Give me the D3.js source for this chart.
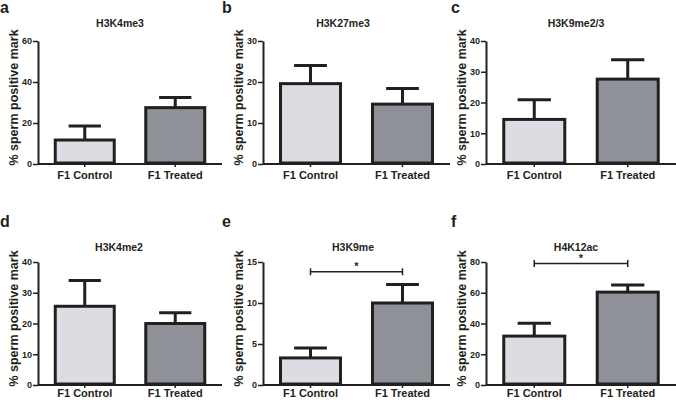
<!DOCTYPE html>
<html>
<head>
<meta charset="utf-8">
<script src="https://cdn.jsdelivr.net/npm/d3@7"></script>
<style>
  html, body { margin: 0; padding: 0; background: #fff; }
  svg { display: block; }
  text { font-family: "Liberation Sans", Arial, Helvetica, sans-serif; fill: #231f20; }
</style>
</head>
<body>
<svg id="chart" width="676" height="400"></svg>
<script>
// ---- Data ----
const categories = ["F1 Control", "F1 Treated"];
const panelLetters = ["a", "b", "c", "d", "e", "f"];
const titles = ["H3K4me3", "H3K27me3", "H3K9me2/3", "H3K4me2", "H3K9me", "H4K12ac"];
const yMax = [60, 30, 40, 40, 15, 80];
const yTicks = [
  [0, 20, 40, 60],
  [0, 10, 20, 30],
  [0, 10, 20, 30, 40],
  [0, 10, 20, 30, 40],
  [0, 5, 10, 15],
  [0, 20, 40, 60, 80]
];
const controlMean = [11.7, 19.6, 14.5, 25.6, 3.3, 31.8];
const controlErr  = [6.8, 4.4, 6.4, 8.4, 1.2, 8.4];
const treatedMean = [27.5, 14.6, 27.6, 20.0, 10.0, 60.4];
const treatedErr  = [5.0, 3.8, 6.3, 3.5, 2.25, 4.6];
const sigLabel = [null, null, null, null, "*", "*"];
const sigLevel = [null, null, null, null, 13.8, 79];

// ---- Layout ----
const axisX = [38, 263, 486, 38, 263, 486];
const plotW = [184, 187, 190, 184, 187, 190];
const rowTop = [41, 41, 41, 262, 262, 262];
const rowBottom = [164, 164, 164, 385, 385, 385];
const xLabelPad = [4, 4, 4, 1.5, 1.5, 1.5];
const titleX = [120, 343, 576, 119, 353, 576];
const titleY = [27, 27, 27, 251, 251, 251];
const letterX = [0, 222, 451, 0, 222, 451];
const letterY = [13, 13, 13, 227, 227, 227];
const fills = ["#dcdde2", "#8e9197"];
const ink = "#231f20";

const svg = d3.select("#chart");

panelLetters.forEach((letter, i) => {
  const g = svg.append("g");
  const x = d3.scaleBand()
    .domain(categories)
    .range([axisX[i], axisX[i] + plotW[i]])
    .paddingInner(0.315)
    .paddingOuter(0.174);
  const y = d3.scaleLinear().domain([0, yMax[i]]).range([rowBottom[i], rowTop[i]]);

  const means = [controlMean[i], treatedMean[i]];
  const errs = [controlErr[i], treatedErr[i]];
  const bw = x.bandwidth();

  // error bars
  categories.forEach((c, k) => {
    const cx = x(c) + bw / 2;
    g.append("line")
      .attr("x1", cx).attr("x2", cx)
      .attr("y1", y(means[k])).attr("y2", y(means[k] + errs[k]))
      .attr("stroke", ink).attr("stroke-width", 3);
    g.append("line")
      .attr("x1", cx - bw * 0.26).attr("x2", cx + bw * 0.26)
      .attr("y1", y(means[k] + errs[k])).attr("y2", y(means[k] + errs[k]))
      .attr("stroke", ink).attr("stroke-width", 3);
  });

  // bars
  g.selectAll("rect.bar")
    .data(categories.map((c, k) => ({ c, v: means[k], k })))
    .enter().append("rect")
    .attr("class", "bar")
    .attr("x", d => x(d.c) + 1.5)
    .attr("width", bw - 3)
    .attr("y", d => y(d.v))
    .attr("height", d => y(0) - y(d.v) - 1)
    .attr("fill", d => fills[d.k])
    .attr("stroke", ink)
    .attr("stroke-width", 3);

  // y axis
  const yAxis = d3.axisLeft(y).tickValues(yTicks[i]).tickSize(5).tickPadding(1).tickSizeOuter(0);
  const ya = g.append("g").attr("transform", `translate(${axisX[i]},0)`).call(yAxis);
  ya.select(".domain").attr("stroke", ink).attr("stroke-width", 2);
  ya.selectAll(".tick line").attr("stroke", ink).attr("stroke-width", 1.5);
  ya.selectAll(".tick text")
    .style("font-family", '"Liberation Sans", Arial, sans-serif')
    .style("font-size", "9px").style("font-weight", "bold").attr("fill", ink);

  // x axis
  const xAxis = d3.axisBottom(x).tickSize(3).tickPadding(xLabelPad[i]).tickSizeOuter(0);
  const xa = g.append("g").attr("transform", `translate(0,${rowBottom[i]})`).call(xAxis);
  xa.select(".domain").attr("stroke", ink).attr("stroke-width", 2)
    .attr("d", `M${axisX[i]},0H${axisX[i] + plotW[i]}`);
  xa.selectAll(".tick line").attr("stroke", ink).attr("stroke-width", 1.5);
  xa.selectAll(".tick text")
    .style("font-family", '"Liberation Sans", Arial, sans-serif')
    .style("font-size", "11px").style("font-weight", "bold").attr("fill", ink);

  // y axis label
  g.append("text")
    .attr("transform", `translate(${axisX[i] - 24},${(rowTop[i] + rowBottom[i]) / 2 - 5}) rotate(-90)`)
    .attr("text-anchor", "middle")
    .attr("dominant-baseline", "central")
    .style("font-size", "12.5px").style("font-weight", "bold")
    .text("% sperm positive mark");

  // title
  g.append("text")
    .attr("x", titleX[i]).attr("y", titleY[i])
    .attr("text-anchor", "middle")
    .style("font-size", "10.5px").style("font-weight", "bold")
    .text(titles[i]);

  // panel letter
  g.append("text")
    .attr("x", letterX[i]).attr("y", letterY[i])
    .style("font-size", "16px").style("font-weight", "bold")
    .text(letter);

  // significance bracket
  if (sigLabel[i]) {
    const x1 = x(categories[0]) + bw / 2;
    const x2 = x(categories[1]) + bw / 2;
    const sy = y(sigLevel[i]);
    g.append("path")
      .attr("d", `M${x1},${sy - 3.5}V${sy + 3.5}M${x1},${sy}H${x2}M${x2},${sy - 3.5}V${sy + 3.5}`)
      .attr("fill", "none").attr("stroke", ink).attr("stroke-width", 1.5);
    g.append("text")
      .attr("x", (x1 + x2) / 2).attr("y", sy - 2)
      .attr("text-anchor", "middle")
      .style("font-size", "11px").style("font-weight", "bold")
      .text(sigLabel[i]);
  }
});
</script>
</body>
</html>
